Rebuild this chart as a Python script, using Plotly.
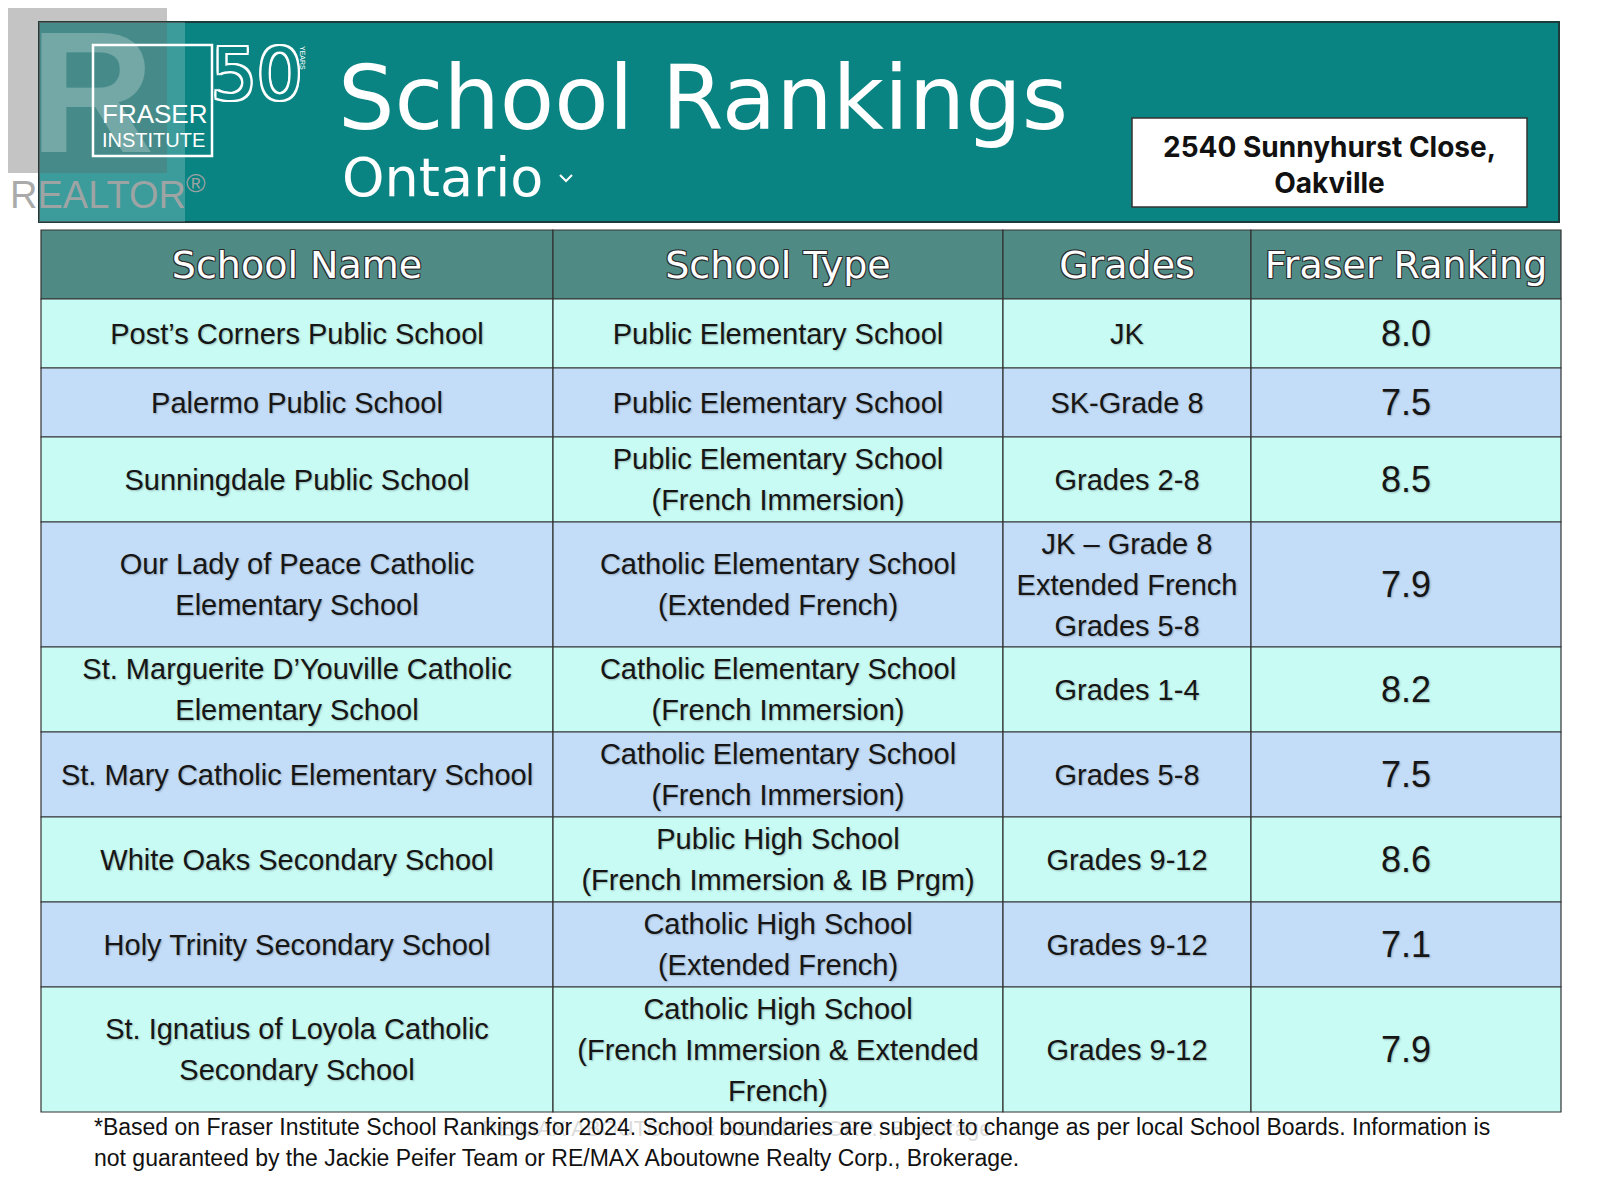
import plotly.graph_objects as go

# table contents
headers = ["School Name", "School Type", "Grades", "Fraser Ranking"]
school_names = [
    "Post\u2019s Corners Public School",
    "Palermo Public School",
    "Sunningdale Public School",
    "Our Lady of Peace Catholic\nElementary School",
    "St. Marguerite D\u2019Youville Catholic\nElementary School",
    "St. Mary Catholic Elementary School",
    "White Oaks Secondary School",
    "Holy Trinity Secondary School",
    "St. Ignatius of Loyola Catholic\nSecondary School",
]
school_types = [
    "Public Elementary School",
    "Public Elementary School",
    "Public Elementary School\n(French Immersion)",
    "Catholic Elementary School\n(Extended French)",
    "Catholic Elementary School\n(French Immersion)",
    "Catholic Elementary School\n(French Immersion)",
    "Public High School\n(French Immersion & IB Prgm)",
    "Catholic High School\n(Extended French)",
    "Catholic High School\n(French Immersion & Extended\nFrench)",
]
grades = [
    "JK",
    "SK-Grade 8",
    "Grades 2-8",
    "JK \u2013 Grade 8\nExtended French\nGrades 5-8",
    "Grades 1-4",
    "Grades 5-8",
    "Grades 9-12",
    "Grades 9-12",
    "Grades 9-12",
]
rankings = [8.0, 7.5, 8.5, 7.9, 8.2, 7.5, 8.6, 7.1, 7.9]

title = "School Rankings"
region = "Ontario"
address = "2540 Sunnyhurst Close,<br>Oakville"
footnote = [
    "*Based on Fraser Institute School Rankings for 2024. School boundaries are subject to change as per local School Boards. Information is",
    "not guaranteed by the Jackie Peifer Team or RE/MAX Aboutowne Realty Corp., Brokerage.",
]

# layout (page pixel space; the page body has an 8px margin)
W, H = 1600, 1187
OFF = 8
col_edges = [41, 553, 1003, 1251, 1561]
table_top = 230
header_h = 69
line_gap = 41
teal = "#0A8482"
header_fill = "#4F8A85"
row_fills = ["#C8FBF4", "#C3DDF8"]
border = "#333333"

columns = [school_names, school_types, grades, [f"{v:.1f}" for v in rankings]]
n_rows = len(school_names)
n_lines = [max(len(col[i].split("\n")) for col in columns) for i in range(n_rows)]
row_h = [max(69, 40 * n + 5) for n in n_lines]

row_top = [table_top + header_h]
for h in row_h[:-1]:
    row_top.append(row_top[-1] + h)

fig = go.Figure()
shapes = []

# banner
shapes.append(dict(type="rect", x0=39, x1=1559, y0=22, y1=222, fillcolor=teal,
                   line=dict(color="#1d3b3a", width=2), layer="below"))
# realtor watermark square
shapes.append(dict(type="rect", x0=8, x1=167, y0=8, y1=173, fillcolor="rgba(60,60,60,0.3)",
                   line=dict(width=0), layer="below"))
# light overlay on the left of banner
shapes.append(dict(type="rect", x0=39, x1=185, y0=22, y1=222, fillcolor="rgba(255,255,255,0.2)",
                   line=dict(width=0), layer="below"))
# fraser logo frame
shapes.append(dict(type="rect", x0=93, x1=212, y0=45, y1=156, fillcolor="rgba(0,0,0,0)",
                   line=dict(color="white", width=2.5), layer="below"))
# chevron after Ontario
shapes.append(dict(type="path", path="M 560 175 L 566 181 L 572 175",
                   line=dict(color="white", width=2), layer="below"))
# address box
shapes.append(dict(type="rect", x0=1132, x1=1527, y0=118, y1=207, fillcolor="white",
                   line=dict(color="#333333", width=1.5), layer="below"))

# header cells
for c in range(4):
    shapes.append(dict(type="rect", x0=col_edges[c], x1=col_edges[c + 1], y0=table_top,
                       y1=table_top + header_h, fillcolor=header_fill,
                       line=dict(color=border, width=1.2), layer="below"))
# body cells
for r in range(n_rows):
    for c in range(4):
        shapes.append(dict(type="rect", x0=col_edges[c], x1=col_edges[c + 1], y0=row_top[r],
                           y1=row_top[r] + row_h[r], fillcolor=row_fills[r % 2],
                           line=dict(color=border, width=1.2), layer="below"))

col_centers = [(col_edges[c] + col_edges[c + 1]) / 2 for c in range(4)]

# header text
fig.add_trace(go.Scatter(
    x=col_centers, y=[table_top + header_h / 2 + 4] * 4, text=headers, mode="text",
    textposition="middle center", hoverinfo="skip", showlegend=False, cliponaxis=False,
    textfont=dict(family="DejaVu Sans", size=38, color="white",
                  shadow="-1px -1px 0 #2b2b2b, 1px -1px 0 #2b2b2b, -1px 1px 0 #2b2b2b, 1px 1px 0 #2b2b2b"),
))

# body text, one point per line of text
for c, col in enumerate(columns):
    xs, ys, ts = [], [], []
    for r, val in enumerate(col):
        parts = val.split("\n")
        mid = row_top[r] + row_h[r] / 2 + 3
        for i, p in enumerate(parts):
            xs.append(col_centers[c])
            ys.append(mid + (i - (len(parts) - 1) / 2) * line_gap)
            ts.append(p)
    fig.add_trace(go.Scatter(
        x=xs, y=ys, text=ts, mode="text", textposition="middle center",
        hoverinfo="skip", showlegend=False, cliponaxis=False,
        textfont=dict(family="Liberation Sans", size=36 if c == 3 else 29, color="#161616",
                      shadow="1px 1px 2px rgba(0,0,0,0.25)"),
    ))

annotations = [
    # realtor watermark letter and word
    dict(x=92, y=92, text="<b>R</b>", font=dict(family="Liberation Sans", size=172,
         color="rgba(255,255,255,0.25)"), xanchor="center", yanchor="middle"),
    dict(x=8, y=192, text="REALTOR<sup>®</sup>", font=dict(family="Liberation Sans", size=38,
         color="rgba(165,165,165,0.95)"), xanchor="left", yanchor="middle"),
    # fraser institute logo
    dict(x=100, y=114, text="FRASER", font=dict(family="Liberation Sans", size=26, color="white"),
         xanchor="left", yanchor="middle"),
    dict(x=100, y=140, text="INSTITUTE", font=dict(family="Liberation Sans", size=20, color="white"),
         xanchor="left", yanchor="middle"),
    dict(x=257, y=74, text="50", font=dict(family="DejaVu Sans", size=72, color=teal,
         shadow="-2px -2px 0 white, 2px -2px 0 white, -2px 2px 0 white, 2px 2px 0 white, 0 2px 0 white, 0 -2px 0 white, 2px 0 0 white, -2px 0 0 white"),
         xanchor="center", yanchor="middle"),
    dict(x=303, y=58, text="YEARS", textangle=90, font=dict(family="Liberation Sans", size=7, color="white"),
         xanchor="center", yanchor="middle"),
    # titles
    dict(x=336, y=98, text=title, font=dict(family="DejaVu Sans", size=89, color="white"),
         xanchor="left", yanchor="middle"),
    dict(x=340, y=177, text=region, font=dict(family="DejaVu Sans", size=54, color="white"),
         xanchor="left", yanchor="middle"),
    dict(x=1329, y=165, text="<b>" + address + "</b>", font=dict(family="Inter", size=28, color="#111111"),
         xanchor="center", yanchor="middle", align="center"),
    # faint watermark behind footnote
    dict(x=480, y=1128, text="RE/MAX ABOUTOWNE REALTY CORP., Brokerage",
         font=dict(family="Liberation Sans", size=22, color="rgba(190,190,190,0.55)"),
         xanchor="left", yanchor="middle"),
]
for i, line in enumerate(footnote):
    annotations.append(dict(x=92, y=1127 + i * 31, text=line,
                            font=dict(family="Liberation Sans", size=23, color="#111111"),
                            xanchor="left", yanchor="middle"))
for a in annotations:
    a.update(xref="x", yref="y", showarrow=False)

fig.update_layout(
    width=W, height=H,
    margin=dict(l=0, r=0, t=0, b=0),
    paper_bgcolor="white", plot_bgcolor="white",
    xaxis=dict(range=[OFF, W + OFF], visible=False, fixedrange=True),
    yaxis=dict(range=[H + OFF, OFF], visible=False, fixedrange=True),
    shapes=shapes,
    annotations=annotations,
)

fig.write_html("out.html")
